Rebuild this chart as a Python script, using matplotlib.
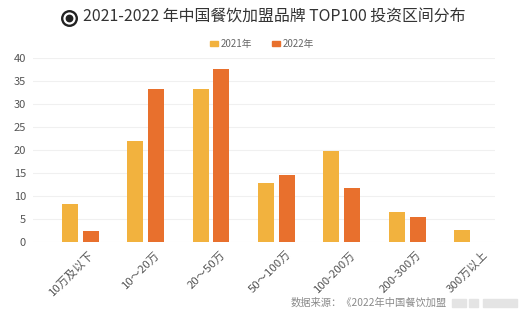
import matplotlib
matplotlib.use("Agg")
import matplotlib.pyplot as plt
import numpy as np
from matplotlib.patches import Rectangle
from matplotlib.lines import Line2D
from matplotlib.transforms import ScaledTranslation

plt.rcParams['font.family'] = ['Noto Sans CJK SC', 'DejaVu Sans']

categories = ["10万及以下", "10～20万", "20～50万", "50～100万", "100-200万", "200-300万", "300万以上"]
values_2021 = [8.3, 21.9, 33.3, 12.7, 19.7, 6.4, 2.6]
values_2022 = [2.3, 33.3, 37.7, 14.5, 11.8, 5.4, 0.0]
series_names = ["2021年", "2022年"]
y_ticks = [0, 5, 10, 15, 20, 25, 30, 35, 40]

title = "2021-2022 年中国餐饮加盟品牌 TOP100 投资区间分布"
source = "数据来源：《2022年中国餐饮加盟"

c2021 = "#F2B23E"
c2022 = "#E8702D"

W, H = 520, 322
fig = plt.figure(figsize=(W / 100, H / 100), dpi=100)
fig.patch.set_facecolor("white")

# axes placed in pixel coordinates
left, right, top, bottom = 33, 495, 58.3, 241.7
ax = fig.add_axes([left / W, 1 - bottom / H, (right - left) / W, (bottom - top) / H])

x = np.arange(len(categories))
bw = 0.245
off = 0.16
ax.bar(x - off, values_2021, width=bw, color=c2021, zorder=3)
ax.bar(x + off, values_2022, width=bw, color=c2022, zorder=3)

ax.set_ylim(0, 40)
ax.set_xlim(-0.72, 6.34)
ax.set_yticks(y_ticks)
ax.set_yticklabels([str(t) for t in y_ticks], fontsize=8, color="#555555")
ax.yaxis.grid(True, color="#F0F0F0", linewidth=0.8, zorder=0)
ax.set_xticks(x)
ax.set_xticklabels(categories, rotation=45, ha="right", rotation_mode="anchor",
                   fontsize=8.2, color="#555555")
ax.tick_params(axis="both", length=0)
ax.tick_params(axis="y", pad=5)
ax.tick_params(axis="x", pad=5.5)
shift = ScaledTranslation(9 / 100, 0, fig.dpi_scale_trans)
for lab in ax.get_xticklabels():
    lab.set_transform(lab.get_transform() + shift)
for s in ax.spines.values():
    s.set_visible(False)
ax.set_facecolor("none")

# title with a target-style bullet
bx, by = 69 / W, 1 - 18 / H
fig.add_artist(Line2D([bx], [by], transform=fig.transFigure, marker="o",
                      markersize=10.5, markerfacecolor="none",
                      markeredgecolor="#222222", markeredgewidth=1.7))
fig.add_artist(Line2D([bx], [by], transform=fig.transFigure, marker="o",
                      markersize=4.6, markerfacecolor="#222222",
                      markeredgecolor="#222222"))
fig.text(83 / W, 1 - 17.5 / H, title, fontsize=11.45, color="#333333",
         ha="left", va="center")

# legend
for xs, name, col in [(210, series_names[0], c2021), (272, series_names[1], c2022)]:
    fig.patches.append(Rectangle((xs / W, 1 - 46 / H), 8 / W, 5 / H,
                                 transform=fig.transFigure, color=col))
    fig.text((xs + 11) / W, 1 - 43.5 / H, name, fontsize=7, color="#666666",
             ha="left", va="center")

# source note
fig.text(291 / W, 1 - 303 / H, source, fontsize=7.4, color="#8a8a8a",
         ha="left", va="center")
for xs, w in [(452, 14), (469, 9), (483, 34)]:
    fig.patches.append(Rectangle((xs / W, 1 - 307 / H), w / W, 8 / H,
                                 transform=fig.transFigure, color="#e4e4e4"))

fig.savefig("out.png", dpi=100, facecolor="white")
